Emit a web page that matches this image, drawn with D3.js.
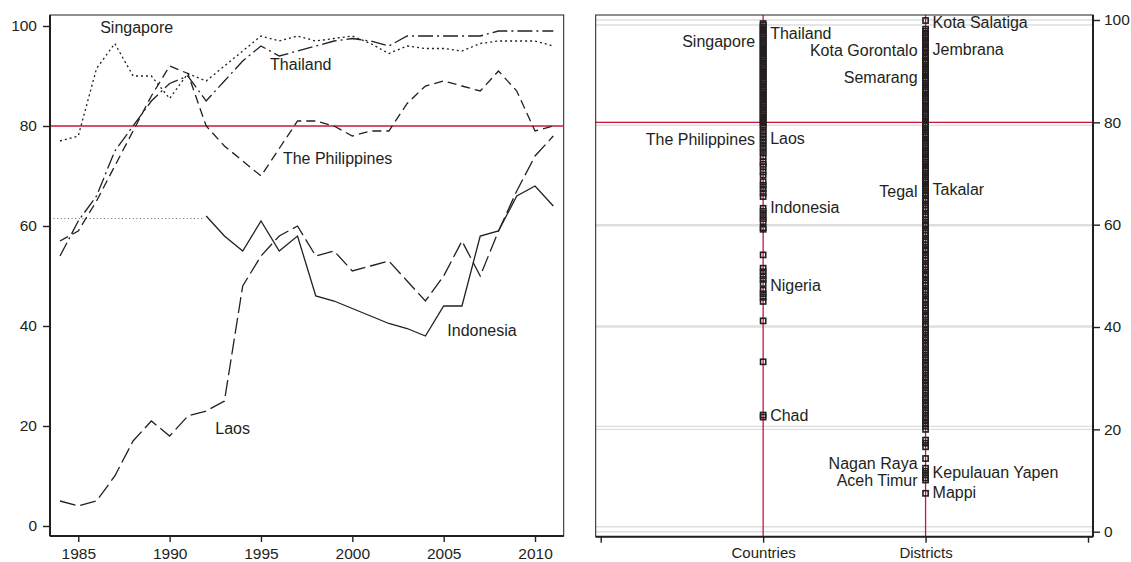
<!DOCTYPE html>
<html lang="en">
<head>
    <meta charset="UTF-8">
    <title>Completion rates: countries and districts</title>
    <script src="https://d3js.org/d3.v7.min.js"></script>
    <style>
        body { margin: 0; background: #fff; }
        svg { display: block; font-family: "Liberation Sans", Arial, sans-serif; }
        .tick text { font-size: 15.5px; fill: #231f20; }
        .tick line { stroke: #231f20; stroke-width: 1.4; }
        .label { font-size: 16px; fill: #231f20; }
        .series { fill: none; stroke: #231f20; stroke-width: 1.3; }
    </style>
</head>
<body>
<svg width="1131" height="562"></svg>
<script>
    // ---- left panel data ----
    const years = [1984, 1985, 1986, 1987, 1988, 1989, 1990, 1991, 1992, 1993, 1994, 1995, 1996, 1997,
                   1998, 1999, 2000, 2001, 2002, 2003, 2004, 2005, 2006, 2007, 2008, 2009, 2010, 2011];
    const singapore = [77, 78, 91.5, 96.5, 90, 90, 85.5, 90.5, 89, 92, 95, 98, 97, 98,
                       97, 97.5, 98, 96.5, 94.5, 96, 95.5, 95.5, 95, 96.5, 97, 97, 97, 96];
    const thailand = [54, 61, 66, 75, 80, 85, 88.5, 90, 85, 89, 93, 96, 94, 95,
                      96, 97, 97.5, 97, 96, 98, 98, 98, 98, 98, 99, 99, 99, 99];
    const philippines = [57, 59, 65, 72, 79, 86, 92, 90.5, 80, 76, 73, 70, 75.5, 81,
                         81, 80, 78, 79, 79, 84.5, 88, 89, 88, 87, 91, 87, 79, 80];
    const laos = [5, 4, 5, 10, 17, 21, 18, 22, 23, 25, 48, 54, 58, 60,
                  54, 55, 51, 52, 53, 49, 45, 50, 57, 50, 59, 67, 74, 78];
    const indonesia = [null, null, null, null, null, null, null, null, 62, 58, 55, 61, 55, 58,
                       46, 45, 43.5, 42, 40.5, 39.5, 38, 44, 44, 58, 59, 66, 68, 64];
    const indonesiaRef = 61.5;   // dotted level before 1992
    const target = 80;

    const seriesNames = ["Singapore", "Thailand", "The Philippines", "Laos", "Indonesia"];
    const seriesValues = [singapore, thailand, philippines, laos, indonesia];
    const seriesDash = ["2,3", "15,4,2,4", "9,5", "16,5", null];
    const seriesLabelX = [1986.2, 1995.5, 1996.2, 1992.5, 2005.2];
    const seriesLabelY = [99.4, 92, 73.2, 19.3, 38.9];

    const yTicks = [0, 20, 40, 60, 80, 100];
    const xTicks = [1985, 1990, 1995, 2000, 2005, 2010];

    // ---- right panel data ----
    const groups = ["Countries", "Districts"];
    const countries = [99.3, 99.0, 98.6, 98.2, 97.9, 97.5, 97.1, 96.8, 96.4, 96.0, 95.6, 95.3, 94.9, 94.5,
        94.1, 93.8, 93.4, 93.0, 92.6, 92.3, 91.9, 91.5, 91.1, 90.8, 90.4, 90.0, 89.6, 89.3, 88.9, 88.5,
        88.1, 87.8, 87.4, 87.0, 86.6, 86.3, 85.9, 85.5, 85.1, 84.8, 84.4, 84.0, 83.6, 83.3, 82.9, 82.5,
        82.1, 81.8, 81.4, 81.0, 80.6, 80.3, 79.9, 79.5, 79.1,
        78.4, 77.8, 77.2, 76.6, 76.0, 75.3, 74.7, 74.0, 73.3, 72.3, 71.8, 71.3, 70.3, 69.7,
        68.4, 67.7, 67.0, 66.2, 65.5, 63.2, 62.6, 61.9, 61.2, 60.6, 59.4, 59.1, 54.1,
        51.5, 50.8, 50.0, 49.3, 48.5, 47.2, 46.5, 45.8, 45.0, 41.2, 33.2, 22.8, 22.4];
    const districts = [99.9,
        98.2, 97.8, 97.4, 96.9, 96.5, 96.0, 95.6, 95.2, 94.7, 94.3, 93.8, 93.5, 93.0, 92.6, 92.1, 91.7,
        91.2, 90.8, 90.4, 89.9, 89.5, 89.1, 88.6, 88.2, 87.7, 87.3, 86.9, 86.4, 86.0, 85.5, 85.1, 84.7,
        84.2, 83.8, 83.3, 82.9, 82.5, 82.0, 81.6, 81.1, 80.7, 80.3, 79.8, 79.4, 78.9, 78.5, 78.1, 77.6,
        77.2, 76.7, 76.3, 75.9, 75.4, 75.0, 74.5, 74.1, 73.7, 73.2, 72.8, 72.3, 71.9, 71.5, 71.0, 70.6,
        70.1, 69.7, 69.3, 68.8, 68.4, 67.9, 67.5, 67.1, 66.6, 66.2,
        65.8, 65.1, 64.6, 63.9, 63.3, 62.8, 62.0, 61.5, 60.9, 60.2, 59.7, 59.0, 58.4, 57.9, 57.1, 56.6,
        56.0, 55.3, 54.8, 54.1, 53.5, 53.0, 52.2, 51.7, 51.1, 50.4, 49.9, 49.2, 48.6, 48.1, 47.3, 46.8,
        46.2, 45.5, 45.0, 44.3, 43.7, 43.2, 42.4, 41.9, 41.3, 40.6, 40.1,
        39.4, 38.8, 38.1, 37.5, 36.8, 36.2, 35.5, 34.9, 34.2, 33.6, 32.9, 32.3, 31.6, 31.0, 30.3, 29.7,
        29.0, 28.4, 27.7, 27.1, 26.4, 25.8, 25.1, 24.5, 23.8, 23.2, 22.5, 21.9, 21.2, 20.6, 20.0,
        17.9, 17.3, 16.6, 14.3, 12.4, 11.8, 11.1, 10.5, 10.1, 7.5];
    const pointLabels = [
        {name: "Singapore", group: 0, value: 95.6, side: "left"},
        {name: "Thailand", group: 0, value: 97.1, side: "right"},
        {name: "The Philippines", group: 0, value: 76.4, side: "left"},
        {name: "Laos", group: 0, value: 76.5, side: "right"},
        {name: "Indonesia", group: 0, value: 63.1, side: "right"},
        {name: "Nigeria", group: 0, value: 47.9, side: "right"},
        {name: "Chad", group: 0, value: 22.5, side: "right"},
        {name: "Kota Salatiga", group: 1, value: 99.2, side: "right"},
        {name: "Kota Gorontalo", group: 1, value: 93.8, side: "left"},
        {name: "Jembrana", group: 1, value: 94.0, side: "right"},
        {name: "Semarang", group: 1, value: 88.5, side: "left"},
        {name: "Tegal", group: 1, value: 66.2, side: "left"},
        {name: "Takalar", group: 1, value: 66.6, side: "right"},
        {name: "Nagan Raya", group: 1, value: 13.0, side: "left"},
        {name: "Aceh Timur", group: 1, value: 9.8, side: "left"},
        {name: "Kepulauan Yapen", group: 1, value: 11.4, side: "right"},
        {name: "Mappi", group: 1, value: 7.5, side: "right"}
    ];

    const ink = "#231f20", red = "#c8173a", grid = "#dedede";
    const svg = d3.select("svg");

    // ================= left panel =================
    const L = {left: 50, right: 563.7, top: 15, bottom: 536};
    const x = d3.scaleLinear().domain([1984, 2011]).range([60, 553.3]);
    const y = d3.scaleLinear().domain([0, 100]).range([526, 26]);

    const left = svg.append("g");
    left.append("rect").attr("x", L.left).attr("y", L.top)
        .attr("width", L.right - L.left).attr("height", L.bottom - L.top)
        .attr("fill", "none").attr("stroke", ink).attr("stroke-width", 1);

    left.append("line").attr("x1", L.left).attr("x2", L.right)
        .attr("y1", y(target)).attr("y2", y(target))
        .attr("stroke", red).attr("stroke-width", 1.3);

    left.append("line").attr("x1", L.left).attr("x2", x(1992) - 2)
        .attr("y1", y(indonesiaRef)).attr("y2", y(indonesiaRef))
        .attr("stroke", "#555").attr("stroke-width", 0.9).attr("stroke-dasharray", "1,2.6");

    const line = d3.line()
        .defined(d => d[1] != null)
        .x(d => x(d[0])).y(d => y(d[1]));

    seriesValues.forEach((vals, i) => {
        left.append("path")
            .attr("class", "series")
            .attr("d", line(years.map((yr, j) => [yr, vals[j]])))
            .attr("stroke-dasharray", seriesDash[i]);
        left.append("text").attr("class", "label")
            .attr("x", x(seriesLabelX[i])).attr("y", y(seriesLabelY[i]))
            .attr("dominant-baseline", "middle")
            .text(seriesNames[i]);
    });

    const lx = left.append("g").attr("transform", `translate(0,${L.bottom})`)
        .call(d3.axisBottom(x).tickValues(xTicks).tickFormat(d3.format("d")).tickSize(6).tickPadding(6));
    lx.select(".domain").remove();
    left.append("line").attr("x1", L.left).attr("x2", L.right).attr("y1", L.bottom).attr("y2", L.bottom)
        .attr("stroke", ink).attr("stroke-width", 2);

    const ly = left.append("g").attr("transform", `translate(${L.left},0)`)
        .call(d3.axisLeft(y).tickValues(yTicks).tickSize(7).tickPadding(6));
    ly.select(".domain").remove();
    left.append("line").attr("x1", L.left).attr("x2", L.left).attr("y1", L.top).attr("y2", L.bottom)
        .attr("stroke", ink).attr("stroke-width", 2);

    // ================= right panel =================
    const R = {left: 595.7, right: 1093, top: 15, bottom: 536.7};
    const xr = d3.scaleLinear().domain([0, 3]).range([600.7, 1088]);
    const yr = d3.scaleLinear().domain([0, 100]).range([531.7, 20]);
    const yr2 = d3.scaleLinear().domain([0, 100]).range([526.7, 25]);

    const right = svg.append("g");
    [yr, yr2].forEach(s => {
        right.selectAll(null).data(yTicks).enter().append("line")
            .attr("x1", R.left).attr("x2", R.right)
            .attr("y1", d => s(d)).attr("y2", d => s(d))
            .attr("stroke", grid).attr("stroke-width", 1.4);
    });

    right.append("line").attr("x1", R.left).attr("x2", R.right)
        .attr("y1", yr(target)).attr("y2", yr(target))
        .attr("stroke", red).attr("stroke-width", 1.3);
    right.selectAll(null).data(groups).enter().append("line")
        .attr("x1", (d, i) => xr(i + 1)).attr("x2", (d, i) => xr(i + 1))
        .attr("y1", R.top).attr("y2", R.bottom)
        .attr("stroke", red).attr("stroke-width", 1.3);

    [countries, districts].forEach((vals, gi) => {
        right.selectAll(null).data(vals).enter().append("rect")
            .attr("x", xr(gi + 1) - 2.6).attr("y", d => yr(d) - 2.6)
            .attr("width", 5.2).attr("height", 5.2)
            .attr("fill", "none").attr("stroke", ink).attr("stroke-width", 1.6);
    });

    right.selectAll(null).data(pointLabels).enter().append("text")
        .attr("class", "label")
        .attr("x", d => xr(d.group + 1) + (d.side === "left" ? -8 : 7))
        .attr("y", d => yr(d.value))
        .attr("dominant-baseline", "middle")
        .attr("text-anchor", d => d.side === "left" ? "end" : "start")
        .text(d => d.name);

    right.append("rect").attr("x", R.left).attr("y", R.top)
        .attr("width", R.right - R.left).attr("height", R.bottom - R.top)
        .attr("fill", "none").attr("stroke", ink).attr("stroke-width", 1);

    const rx = right.append("g").attr("transform", `translate(0,${R.bottom})`)
        .call(d3.axisBottom(xr).tickValues([0, 1, 2, 3])
            .tickFormat(d => (d >= 1 && d <= 2) ? groups[d - 1] : "").tickSize(6).tickPadding(5));
    rx.select(".domain").remove();
    rx.selectAll(".tick text").style("font-size", "15px");
    right.append("line").attr("x1", R.left).attr("x2", R.right).attr("y1", R.bottom).attr("y2", R.bottom)
        .attr("stroke", ink).attr("stroke-width", 2);

    const ry = right.append("g").attr("transform", `translate(${R.right},0)`)
        .call(d3.axisRight(yr).tickValues(yTicks).tickSize(7).tickPadding(4));
    ry.select(".domain").remove();
    right.append("line").attr("x1", R.right).attr("x2", R.right).attr("y1", R.top).attr("y2", R.bottom)
        .attr("stroke", ink).attr("stroke-width", 2);
</script>
</body>
</html>
